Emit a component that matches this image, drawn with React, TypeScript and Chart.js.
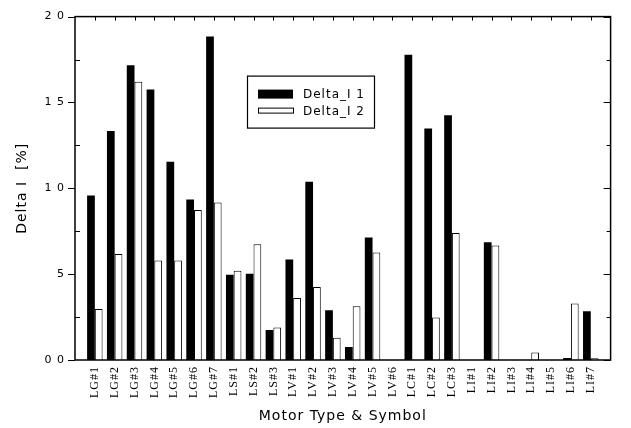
import React, { useEffect, useRef } from "react";
import { Chart, registerables } from "chart.js";

Chart.register(...registerables);

const categories = [
  "LG#1", "LG#2", "LG#3", "LG#4", "LG#5", "LG#6", "LG#7",
  "LS#1", "LS#2", "LS#3",
  "LV#1", "LV#2", "LV#3", "LV#4", "LV#5", "LV#6",
  "LC#1", "LC#2", "LC#3",
  "LI#1", "LI#2", "LI#3", "LI#4", "LI#5", "LI#6", "LI#7",
];

const deltaI1 = [
  0.958, 1.333, 1.716, 1.575, 1.154, 0.935, 1.884,
  0.497, 0.502, 0.174,
  0.586, 1.038, 0.290, 0.075, 0.713, 0,
  1.778, 1.349, 1.426,
  0, 0.686, 0, 0, 0, 0.012, 0.284,
];

const deltaI2 = [
  0.297, 0.618, 1.621, 0.580, 0.580, 0.873, 0.918,
  0.520, 0.674, 0.190,
  0.361, 0.425, 0.129, 0.313, 0.626, 0,
  0, 0.247, 0.740,
  0, 0.667, 0, 0.044, 0, 0.329, 0.01,
];

const seriesNames = ["Delta_I 1", "Delta_I 2"];
const yTickValues = [0, 0.5, 1, 1.5, 2];
const yTickLabels = ["0 0", "5", "1 0", "1 5", "2 0"];
const yMinorStep = 0.25;
const xTitle = "Motor Type & Symbol";
const yTitle = "Delta I  [%]";

const labels = ["", ...categories, ""];
const pad = (a: number[]) => [null, ...a, null];

const SANS = "'DejaVu Sans', 'Liberation Sans', sans-serif";
const SERIF = "'Liberation Serif', 'DejaVu Serif', serif";

const spacingPlugin = {
  id: "spacing",
  beforeUpdate(chart: any) {
    (chart.ctx as any).letterSpacing = "1px";
  },
  beforeDraw(chart: any) {
    (chart.ctx as any).letterSpacing = "1px";
  },
};

const framePlugin = {
  id: "frameTicks",
  afterDraw(chart: any) {
    const { ctx, chartArea, scales } = chart;
    const { left, right, top, bottom } = chartArea;
    const x = scales.x;
    const y = scales.y;
    ctx.save();
    ctx.strokeStyle = "#000";
    ctx.lineWidth = 1.5;
    ctx.strokeRect(left, top, right - left, bottom - top);
    ctx.lineWidth = 1;
    ctx.beginPath();
    for (let i = 1; i < labels.length - 1; i++) {
      const px = Math.round(x.getPixelForTick(i)) + 0.5;
      ctx.moveTo(px, top);
      ctx.lineTo(px, top + 4);
    }
    const n = Math.round((y.max - y.min) / yMinorStep);
    for (let k = 0; k <= n; k++) {
      const v = y.min + k * yMinorStep;
      const py = Math.round(y.getPixelForValue(v)) + 0.5;
      const major = yTickValues.some((t) => Math.abs(t - v) < 1e-6);
      if (major) {
        ctx.moveTo(left - 7, py);
        ctx.lineTo(left, py);
        ctx.moveTo(right - 7, py);
        ctx.lineTo(right, py);
      } else {
        ctx.moveTo(left, py);
        ctx.lineTo(left + 5, py);
        ctx.moveTo(right - 4, py);
        ctx.lineTo(right, py);
      }
    }
    ctx.stroke();
    ctx.restore();
  },
};

const legendPlugin = {
  id: "boxLegend",
  afterDraw(chart: any) {
    const { ctx, chartArea } = chart;
    const bx = chartArea.left + 172;
    const by = chartArea.top + 59;
    const bw = 127;
    const bh = 52;
    ctx.save();
    (ctx as any).letterSpacing = "1px";
    ctx.fillStyle = "#fff";
    ctx.fillRect(bx, by, bw, bh);
    ctx.strokeStyle = "#000";
    ctx.lineWidth = 1.2;
    ctx.strokeRect(bx + 0.5, by + 0.5, bw, bh);
    ctx.fillStyle = "#000";
    ctx.fillRect(bx + 11, by + 14, 35, 9);
    ctx.lineWidth = 1;
    ctx.strokeRect(bx + 11.5, by + 32.5, 35, 5);
    ctx.font = `12px ${SANS}`;
    ctx.textBaseline = "middle";
    ctx.textAlign = "left";
    ctx.fillText(seriesNames[0], bx + 56, by + 19);
    ctx.fillText(seriesNames[1], bx + 56, by + 36);
    ctx.restore();
  },
};

export default function App() {
  const ref = useRef<HTMLCanvasElement | null>(null);

  useEffect(() => {
    if (!ref.current) return;
    const chart = new Chart(ref.current, {
      type: "bar",
      data: {
        labels,
        datasets: [
          {
            label: seriesNames[0],
            data: pad(deltaI1),
            backgroundColor: "#000",
            borderWidth: 0,
          },
          {
            label: seriesNames[1],
            data: pad(deltaI2),
            backgroundColor: "#fff",
            borderColor: "#000",
            borderWidth: 1,
          },
        ],
      },
      options: {
        responsive: false,
        animation: false,
        devicePixelRatio: 1,
        datasets: {
          bar: {
            categoryPercentage: 0.78,
            barPercentage: 1.0,
          },
        },
        layout: { padding: { left: 0, top: 14, right: 2, bottom: 0 } },
        plugins: {
          legend: { display: false },
          tooltip: { enabled: false },
        },
        scales: {
          x: {
            type: "category",
            offset: false,
            grid: { display: false, drawTicks: false },
            border: { display: false },
            ticks: {
              autoSkip: false,
              minRotation: 90,
              maxRotation: 90,
              padding: 6,
              color: "#000",
              font: { family: SERIF, size: 12 },
            },
            title: {
              display: true,
              text: xTitle,
              color: "#000",
              font: { family: SANS, size: 14 },
              padding: { top: 0, bottom: 3 },
            },
            afterFit(s: any) {
              s.height = 68;
            },
          },
          y: {
            type: "linear",
            min: 0,
            max: 2,
            grid: { display: false, drawTicks: false },
            border: { display: false },
            afterBuildTicks(s: any) {
              s.ticks = yTickValues.map((v) => ({ value: v }));
            },
            ticks: {
              padding: 10,
              color: "#000",
              font: { family: SANS, size: 11 },
              callback: (v: any) => {
                const i = yTickValues.findIndex((t) => Math.abs(t - Number(v)) < 1e-6);
                return i >= 0 ? yTickLabels[i] : "";
              },
            },
            title: {
              display: true,
              text: yTitle,
              color: "#000",
              font: { family: SANS, size: 14 },
              padding: { top: 14, bottom: 0 },
            },
            afterFit(s: any) {
              s.width = 75;
            },
          },
        },
      },
      plugins: [spacingPlugin, framePlugin, legendPlugin],
    });
    return () => chart.destroy();
  }, []);

  return (
    <div style={{ position: "fixed", left: 0, top: 0, width: 631, height: 428, background: "#fff" }}>
      <canvas ref={ref} width={631} height={428} style={{ display: "block" }} />
    </div>
  );
}
